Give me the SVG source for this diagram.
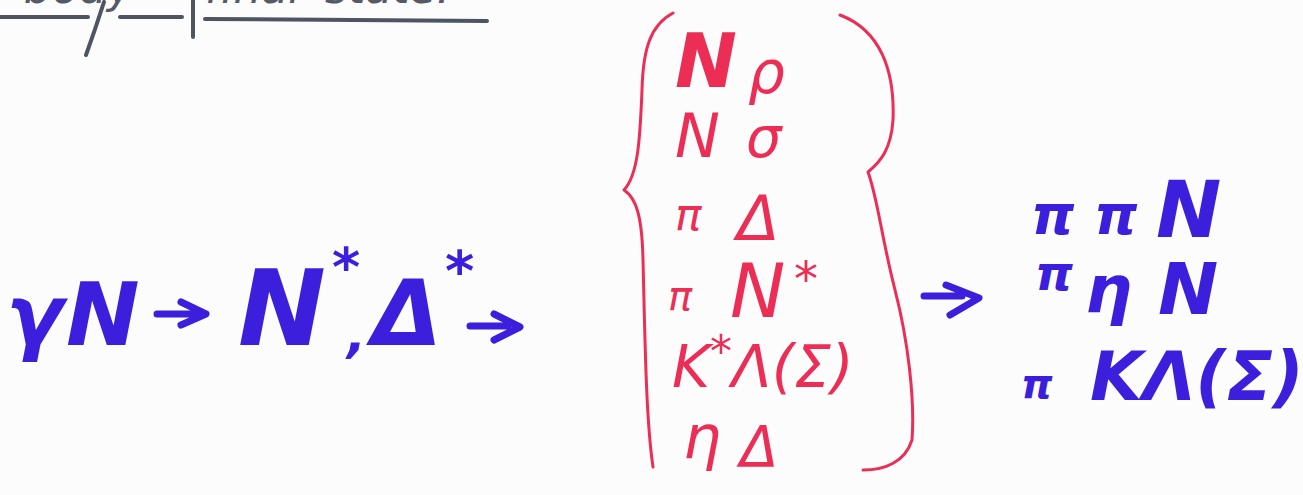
<svg xmlns="http://www.w3.org/2000/svg" width="1303" height="495" viewBox="0 0 1303 495">
<style>
.blue{fill:#3b1fdc;font-family:"DejaVu Sans",sans-serif;font-weight:bold;font-style:italic}
.red{fill:#ec2d55;font-family:"DejaVu Sans",sans-serif;font-style:italic}
.ttl{fill:#555a66;font-family:"DejaVu Sans",sans-serif;font-style:italic;font-size:44px}
.bstroke{fill:none;stroke:#3b1fdc;stroke-width:7;stroke-linecap:round;stroke-linejoin:round}
.rstroke{fill:none;stroke:#ec2d55;stroke-width:3;stroke-linecap:round;stroke-linejoin:round}
.gstroke{fill:none;stroke:#4f5463;stroke-width:4;stroke-linecap:round}
</style>
<rect width="1303" height="495" fill="#fcfcfc"/>
<g id="title">
<text class="ttl" x="-20" y="3">3-body</text>
<text class="ttl" x="205" y="3">final</text>
<text class="ttl" x="325" y="3">state:</text>
<path class="gstroke" d="M0 17 L88 17 M120 17 L182 17 M205 19 L487 21 M104 2 Q95 30 86 55 M193 0 L193 37"/>
</g>
<g id="source">
<text class="blue" x="6" y="345" font-size="84">γ</text>
<text class="blue" x="66" y="345" font-size="88">N</text>
</g>
<g id="resonances">
<text class="blue" x="238" y="345" font-size="105">N</text>
<text class="blue" x="332" y="286" font-size="54">*</text>
<text class="blue" x="347" y="352" font-size="50">,</text>
<text class="blue" x="372" y="345" font-size="90">Δ</text>
<text class="blue" x="445" y="290" font-size="56">*</text>
</g>
<g id="channels">
<path class="rstroke" d="M673 13 C650 25 643 50 642 90 C640 140 638 175 624 190 C636 198 642 215 643 260 C645 340 646 420 653 467"/>
<path class="rstroke" d="M840 15 C880 30 895 70 893 120 C891 150 880 162 868 172 C878 200 880 230 895 290 C908 340 915 400 912 440 C905 462 885 470 863 470"/>
<text class="red" x="675" y="87" font-size="74" font-weight="bold">N</text>
<text class="red" x="748" y="93" font-size="58">ρ</text>
<text class="red" x="675" y="157" font-size="60">N</text>
<text class="red" x="746" y="157" font-size="56">σ</text>
<text class="red" x="675" y="230" font-size="44">π</text>
<text class="red" x="737" y="240" font-size="62">Δ</text>
<text class="red" x="668" y="310" font-size="40">π</text>
<text class="red" x="730" y="317" font-size="74">N</text>
<text class="red" x="794" y="296" font-size="48">*</text>
<text class="red" x="672" y="387" font-size="58">K<tspan font-size="44" dy="-20">*</tspan><tspan dy="20">Λ(Σ)</tspan></text>
<text class="red" x="683" y="458" font-size="60">η</text>
<text class="red" x="740" y="467" font-size="56">Δ</text>
</g>
<g id="final">
<text class="blue" x="1031" y="234" font-size="55">π</text>
<text class="blue" x="1094" y="234" font-size="55">π</text>
<text class="blue" x="1156" y="237" font-size="78">N</text>
<text class="blue" x="1035" y="290" font-size="48">π</text>
<text class="blue" x="1085" y="312" font-size="66">η</text>
<text class="blue" x="1158" y="314" font-size="72">N</text>
<text class="blue" x="1021" y="398" font-size="40">π</text>
<text class="blue" x="1090" y="400" font-size="68">KΛ(Σ)</text>
</g>
<g id="connectors">
<path class="bstroke" d="M157 314 L196 314 M181 302 L206 314 L181 325"/>
<path class="bstroke" d="M470 326 L508 326 M494 314 L520 327 L494 340"/>
<path class="bstroke" d="M924 296 L962 296 M946 285 L979 298 L950 315"/>
</g>
</svg>
